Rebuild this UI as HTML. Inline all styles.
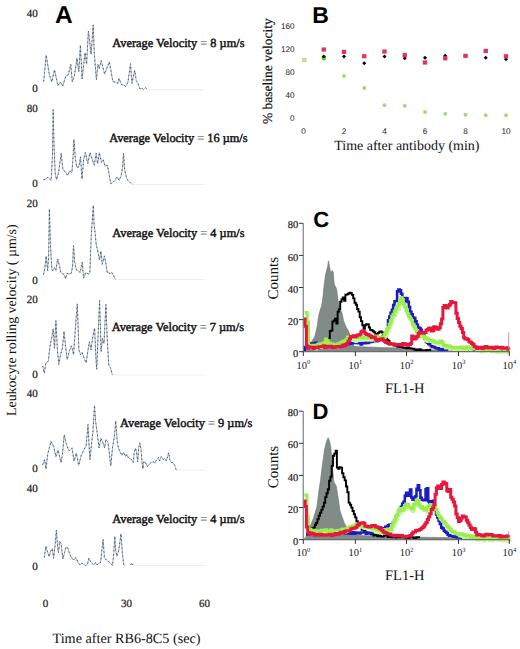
<!DOCTYPE html><html><head><meta charset="utf-8"><style>html,body{margin:0;padding:0;background:#fff;}svg{display:block;}</style></head><body>
<svg width="520" height="649" viewBox="0 0 520 649" text-rendering="geometricPrecision">
<rect width="520" height="649" fill="#fff"/>
<text x="55" y="22.5" style="font-family:'Liberation Sans',sans-serif;font-weight:bold;font-size:24.5px">A</text>
<text x="37.8" y="16.5" text-anchor="end" style="font-family:'Liberation Serif',serif;font-size:11px;fill:#222;stroke:#222;stroke-width:0.25">40</text>
<text x="37.8" y="91.8" text-anchor="end" style="font-family:'Liberation Serif',serif;font-size:11px;fill:#222;stroke:#222;stroke-width:0.25">0</text>
<text x="37.8" y="111.9" text-anchor="end" style="font-family:'Liberation Serif',serif;font-size:11px;fill:#222;stroke:#222;stroke-width:0.25">80</text>
<text x="37.8" y="187.2" text-anchor="end" style="font-family:'Liberation Serif',serif;font-size:11px;fill:#222;stroke:#222;stroke-width:0.25">0</text>
<text x="37.8" y="207" text-anchor="end" style="font-family:'Liberation Serif',serif;font-size:11px;fill:#222;stroke:#222;stroke-width:0.25">20</text>
<text x="37.8" y="283.5" text-anchor="end" style="font-family:'Liberation Serif',serif;font-size:11px;fill:#222;stroke:#222;stroke-width:0.25">0</text>
<text x="37.8" y="302.9" text-anchor="end" style="font-family:'Liberation Serif',serif;font-size:11px;fill:#222;stroke:#222;stroke-width:0.25">20</text>
<text x="37.8" y="377.8" text-anchor="end" style="font-family:'Liberation Serif',serif;font-size:11px;fill:#222;stroke:#222;stroke-width:0.25">0</text>
<text x="37.8" y="397" text-anchor="end" style="font-family:'Liberation Serif',serif;font-size:11px;fill:#222;stroke:#222;stroke-width:0.25">40</text>
<text x="37.8" y="472.4" text-anchor="end" style="font-family:'Liberation Serif',serif;font-size:11px;fill:#222;stroke:#222;stroke-width:0.25">0</text>
<text x="37.8" y="492.4" text-anchor="end" style="font-family:'Liberation Serif',serif;font-size:11px;fill:#222;stroke:#222;stroke-width:0.25">40</text>
<text x="37.8" y="569.5" text-anchor="end" style="font-family:'Liberation Serif',serif;font-size:11px;fill:#222;stroke:#222;stroke-width:0.25">0</text>
<line x1="148" y1="89.6" x2="204" y2="89.6" stroke="#efefef" stroke-width="1.2"/>
<line x1="132" y1="184.5" x2="205" y2="184.5" stroke="#efefef" stroke-width="1.2"/>
<line x1="115" y1="279.5" x2="205" y2="279.5" stroke="#efefef" stroke-width="1.2"/>
<line x1="112" y1="375" x2="205" y2="375" stroke="#efefef" stroke-width="1.2"/>
<line x1="176" y1="470" x2="205" y2="470" stroke="#efefef" stroke-width="1.2"/>
<line x1="134" y1="565.5" x2="205" y2="565.5" stroke="#efefef" stroke-width="1.2"/>
<polyline points="43.7,81.5 46.2,55.0 49.2,74.0 51.7,82.0 54.5,69.8 57.9,85.8 60.3,82.0 62.8,85.8 65.9,76.0 68.3,74.8 70.8,64.3 72.3,82.0 74.5,75.4 77.0,58.1 78.8,71.7 80.4,45.2 82.1,79.0 85.0,52.6 86.6,64.3 88.4,31.0 91.1,54.4 93.2,24.9 94.2,52.0 96.4,79.7 98.0,64.3 99.3,68.6 101.2,60.6 104.6,74.1 109.4,61.8 112.9,81.5 115.3,82.1 117.8,83.4 119.0,78.4 121.5,84.6 124.0,85.2 125.8,86.5 128.0,82.1 130.5,63.7 132.0,83.4 134.7,70.4 136.3,80.9 137.5,82.1 139.1,86.5 140.0,89.0 142.4,88.3 143.7,89.5 145.5,87.7 147.4,89.5" fill="none" stroke="#9fb0c1" stroke-width="0.95" stroke-linejoin="round"/>
<polyline points="43.7,81.5 46.2,55.0 49.2,74.0 51.7,82.0 54.5,69.8 57.9,85.8 60.3,82.0 62.8,85.8 65.9,76.0 68.3,74.8 70.8,64.3 72.3,82.0 74.5,75.4 77.0,58.1 78.8,71.7 80.4,45.2 82.1,79.0 85.0,52.6 86.6,64.3 88.4,31.0 91.1,54.4 93.2,24.9 94.2,52.0 96.4,79.7 98.0,64.3 99.3,68.6 101.2,60.6 104.6,74.1 109.4,61.8 112.9,81.5 115.3,82.1 117.8,83.4 119.0,78.4 121.5,84.6 124.0,85.2 125.8,86.5 128.0,82.1 130.5,63.7 132.0,83.4 134.7,70.4 136.3,80.9 137.5,82.1 139.1,86.5 140.0,89.0 142.4,88.3 143.7,89.5 145.5,87.7 147.4,89.5" fill="none" stroke="#3a4550" stroke-width="0.8" stroke-dasharray="1.4 2.6" stroke-linejoin="round"/>
<polyline points="43.5,179.7 46.2,179.0 47.8,177.0 49.0,178.3 51.1,180.4 52.5,155.4 53.2,109.7 53.9,141.6 55.2,173.4 56.6,179.7 58.7,172.0 61.2,153.3 62.9,170.0 64.9,171.3 67.7,175.5 69.8,170.7 71.9,172.7 73.2,155.4 73.9,139.5 75.3,158.2 76.7,167.2 78.8,167.2 80.5,156.8 82.0,179.0 83.6,159.6 85.4,152.6 87.8,163.7 89.9,152.6 92.1,159.0 94.2,165.1 96.2,153.3 97.6,163.7 99.4,152.6 101.4,162.3 103.2,159.6 105.2,166.5 107.3,165.1 108.7,172.0 110.8,183.8 112.9,182.4 114.9,180.4 117.0,176.9 119.1,180.4 121.2,175.5 122.6,166.5 123.5,153.3 124.6,169.3 126.7,179.0 129.5,181.7 132.3,184.5" fill="none" stroke="#9fb0c1" stroke-width="0.95" stroke-linejoin="round"/>
<polyline points="43.5,179.7 46.2,179.0 47.8,177.0 49.0,178.3 51.1,180.4 52.5,155.4 53.2,109.7 53.9,141.6 55.2,173.4 56.6,179.7 58.7,172.0 61.2,153.3 62.9,170.0 64.9,171.3 67.7,175.5 69.8,170.7 71.9,172.7 73.2,155.4 73.9,139.5 75.3,158.2 76.7,167.2 78.8,167.2 80.5,156.8 82.0,179.0 83.6,159.6 85.4,152.6 87.8,163.7 89.9,152.6 92.1,159.0 94.2,165.1 96.2,153.3 97.6,163.7 99.4,152.6 101.4,162.3 103.2,159.6 105.2,166.5 107.3,165.1 108.7,172.0 110.8,183.8 112.9,182.4 114.9,180.4 117.0,176.9 119.1,180.4 121.2,175.5 122.6,166.5 123.5,153.3 124.6,169.3 126.7,179.0 129.5,181.7 132.3,184.5" fill="none" stroke="#3a4550" stroke-width="0.8" stroke-dasharray="1.4 2.6" stroke-linejoin="round"/>
<polyline points="43.5,274.6 44.8,268.4 46.2,256.0 47.6,270.5 48.6,257.3 49.4,208.9 50.4,243.5 51.8,269.8 53.2,270.5 54.5,267.7 55.9,270.5 57.7,258.7 59.4,265.6 60.8,272.6 62.9,274.0 64.2,274.6 65.6,278.8 67.0,273.3 69.1,274.0 71.2,273.3 72.5,267.0 73.5,245.6 74.6,261.5 76.3,269.8 78.1,270.5 80.2,272.6 82.2,262.2 83.6,278.1 85.7,272.6 88.5,274.0 89.8,273.3 91.2,236.6 93.3,205.4 94.0,222.7 96.1,243.5 98.2,253.2 99.5,260.1 100.9,251.1 102.3,264.3 104.4,255.9 105.8,262.9 107.2,272.6 108.5,271.9 109.9,274.0 112.0,272.6 113.4,275.3 115.5,279.5" fill="none" stroke="#9fb0c1" stroke-width="0.95" stroke-linejoin="round"/>
<polyline points="43.5,274.6 44.8,268.4 46.2,256.0 47.6,270.5 48.6,257.3 49.4,208.9 50.4,243.5 51.8,269.8 53.2,270.5 54.5,267.7 55.9,270.5 57.7,258.7 59.4,265.6 60.8,272.6 62.9,274.0 64.2,274.6 65.6,278.8 67.0,273.3 69.1,274.0 71.2,273.3 72.5,267.0 73.5,245.6 74.6,261.5 76.3,269.8 78.1,270.5 80.2,272.6 82.2,262.2 83.6,278.1 85.7,272.6 88.5,274.0 89.8,273.3 91.2,236.6 93.3,205.4 94.0,222.7 96.1,243.5 98.2,253.2 99.5,260.1 100.9,251.1 102.3,264.3 104.4,255.9 105.8,262.9 107.2,272.6 108.5,271.9 109.9,274.0 112.0,272.6 113.4,275.3 115.5,279.5" fill="none" stroke="#3a4550" stroke-width="0.8" stroke-dasharray="1.4 2.6" stroke-linejoin="round"/>
<polyline points="42.7,366.0 44.3,373.3 45.9,362.8 48.3,361.2 49.9,346.6 51.6,338.5 53.2,328.8 54.5,348.3 55.9,320.7 57.5,351.5 58.8,364.4 60.5,354.7 62.4,348.3 64.0,331.3 65.6,346.6 67.2,359.6 69.4,350.7 71.5,345.8 73.6,354.7 75.2,330.5 77.3,303.8 78.9,349.9 80.5,354.7 82.1,352.3 84.6,359.6 86.2,362.8 87.8,351.5 89.4,341.8 91.0,349.9 93.0,335.3 94.6,328.0 95.9,358.0 96.7,369.3 98.3,330.5 99.6,300.5 101.1,351.5 102.4,338.5 104.0,343.4 105.9,304.6 107.2,338.5 108.8,366.0 110.5,367.7 112.4,375.0" fill="none" stroke="#9fb0c1" stroke-width="0.95" stroke-linejoin="round"/>
<polyline points="42.7,366.0 44.3,373.3 45.9,362.8 48.3,361.2 49.9,346.6 51.6,338.5 53.2,328.8 54.5,348.3 55.9,320.7 57.5,351.5 58.8,364.4 60.5,354.7 62.4,348.3 64.0,331.3 65.6,346.6 67.2,359.6 69.4,350.7 71.5,345.8 73.6,354.7 75.2,330.5 77.3,303.8 78.9,349.9 80.5,354.7 82.1,352.3 84.6,359.6 86.2,362.8 87.8,351.5 89.4,341.8 91.0,349.9 93.0,335.3 94.6,328.0 95.9,358.0 96.7,369.3 98.3,330.5 99.6,300.5 101.1,351.5 102.4,338.5 104.0,343.4 105.9,304.6 107.2,338.5 108.8,366.0 110.5,367.7 112.4,375.0" fill="none" stroke="#3a4550" stroke-width="0.8" stroke-dasharray="1.4 2.6" stroke-linejoin="round"/>
<polyline points="42.7,464.8 44.6,459.6 46.0,469.1 47.8,453.8 51.0,441.3 53.7,446.5 55.9,456.7 58.1,450.1 61.0,462.6 62.4,455.2 64.2,434.8 66.1,443.5 69.0,450.9 72.0,447.9 74.1,461.1 76.3,453.1 78.7,465.3 81.2,455.4 83.6,450.5 86.1,445.6 88.0,424.6 89.2,448.0 90.0,459.7 91.6,443.1 92.9,432.0 94.5,405.5 95.7,422.1 97.2,433.2 99.0,448.0 100.9,438.2 102.7,441.9 104.6,448.0 105.8,439.4 108.0,441.9 110.8,465.9 112.6,446.8 114.5,435.7 115.7,420.9 117.5,444.3 119.4,450.5 121.9,455.4 123.7,452.3 125.6,456.7 126.7,454.4 128.5,457.9 130.2,458.5 131.9,460.2 133.3,462.5 134.2,452.7 135.4,448.1 136.5,452.1 137.7,461.9 138.6,448.1 139.8,442.9 140.9,448.1 142.1,463.1 142.9,468.8 144.0,461.3 145.8,463.1 147.5,466.5 149.2,464.2 151.0,462.5 153.3,461.9 155.0,463.1 156.7,459.6 158.5,457.3 159.6,460.8 161.3,456.7 163.1,459.6 164.8,458.5 166.3,460.8 167.7,456.2 168.6,452.7 169.8,459.6 171.2,462.5 172.9,462.5 174.6,465.4 176.3,470.0" fill="none" stroke="#9fb0c1" stroke-width="0.95" stroke-linejoin="round"/>
<polyline points="42.7,464.8 44.6,459.6 46.0,469.1 47.8,453.8 51.0,441.3 53.7,446.5 55.9,456.7 58.1,450.1 61.0,462.6 62.4,455.2 64.2,434.8 66.1,443.5 69.0,450.9 72.0,447.9 74.1,461.1 76.3,453.1 78.7,465.3 81.2,455.4 83.6,450.5 86.1,445.6 88.0,424.6 89.2,448.0 90.0,459.7 91.6,443.1 92.9,432.0 94.5,405.5 95.7,422.1 97.2,433.2 99.0,448.0 100.9,438.2 102.7,441.9 104.6,448.0 105.8,439.4 108.0,441.9 110.8,465.9 112.6,446.8 114.5,435.7 115.7,420.9 117.5,444.3 119.4,450.5 121.9,455.4 123.7,452.3 125.6,456.7 126.7,454.4 128.5,457.9 130.2,458.5 131.9,460.2 133.3,462.5 134.2,452.7 135.4,448.1 136.5,452.1 137.7,461.9 138.6,448.1 139.8,442.9 140.9,448.1 142.1,463.1 142.9,468.8 144.0,461.3 145.8,463.1 147.5,466.5 149.2,464.2 151.0,462.5 153.3,461.9 155.0,463.1 156.7,459.6 158.5,457.3 159.6,460.8 161.3,456.7 163.1,459.6 164.8,458.5 166.3,460.8 167.7,456.2 168.6,452.7 169.8,459.6 171.2,462.5 172.9,462.5 174.6,465.4 176.3,470.0" fill="none" stroke="#3a4550" stroke-width="0.8" stroke-dasharray="1.4 2.6" stroke-linejoin="round"/>
<polyline points="44.3,557.5 45.9,546.2 47.5,551.8 49.1,556.7 50.7,551.0 52.3,548.6 53.6,558.3 55.3,542.9 56.4,530.0 57.5,546.2 58.5,552.6 59.6,541.3 61.2,544.5 62.9,559.1 64.5,552.6 66.1,547.0 67.7,547.8 69.3,552.6 70.9,556.7 72.6,559.1 74.2,559.9 75.8,557.5 78.1,562.5 80.0,565.0 81.9,563.1 83.8,564.4 85.6,565.6 87.5,564.4 88.8,558.1 90.6,561.9 92.5,563.8 94.0,565.0 95.6,562.5 96.9,565.0 98.8,563.1 100.6,562.5 101.9,550.0 103.1,539.4 104.4,557.5 106.3,560.0 108.1,561.3 110.0,562.5 112.5,565.6 113.8,552.5 114.8,536.3 115.6,550.0 116.9,556.3 118.8,550.0 121.0,533.8 122.3,552.5 123.8,565.0 125.0,565.6" fill="none" stroke="#9fb0c1" stroke-width="0.95" stroke-linejoin="round"/>
<polyline points="44.3,557.5 45.9,546.2 47.5,551.8 49.1,556.7 50.7,551.0 52.3,548.6 53.6,558.3 55.3,542.9 56.4,530.0 57.5,546.2 58.5,552.6 59.6,541.3 61.2,544.5 62.9,559.1 64.5,552.6 66.1,547.0 67.7,547.8 69.3,552.6 70.9,556.7 72.6,559.1 74.2,559.9 75.8,557.5 78.1,562.5 80.0,565.0 81.9,563.1 83.8,564.4 85.6,565.6 87.5,564.4 88.8,558.1 90.6,561.9 92.5,563.8 94.0,565.0 95.6,562.5 96.9,565.0 98.8,563.1 100.6,562.5 101.9,550.0 103.1,539.4 104.4,557.5 106.3,560.0 108.1,561.3 110.0,562.5 112.5,565.6 113.8,552.5 114.8,536.3 115.6,550.0 116.9,556.3 118.8,550.0 121.0,533.8 122.3,552.5 123.8,565.0 125.0,565.6" fill="none" stroke="#3a4550" stroke-width="0.8" stroke-dasharray="1.4 2.6" stroke-linejoin="round"/>
<polyline points="130.6,565.0 131.8,563.0 133.1,565.0" fill="none" stroke="#9fb0c1" stroke-width="0.95" stroke-linejoin="round"/>
<polyline points="130.6,565.0 131.8,563.0 133.1,565.0" fill="none" stroke="#3a4550" stroke-width="0.8" stroke-dasharray="1.4 2.6" stroke-linejoin="round"/>
<text x="112.3" y="47.2" style="font-family:'Liberation Serif',serif;font-size:12.35px;fill:#111;stroke:#111;stroke-width:0.45">Average Velocity <tspan style="fill:#777;stroke:#999;stroke-width:0.2">=</tspan> 8 µm/s</text>
<text x="109.2" y="142" style="font-family:'Liberation Serif',serif;font-size:12.35px;fill:#111;stroke:#111;stroke-width:0.45">Average Velocity <tspan style="fill:#777;stroke:#999;stroke-width:0.2">=</tspan> 16 µm/s</text>
<text x="112.3" y="236.8" style="font-family:'Liberation Serif',serif;font-size:12.35px;fill:#111;stroke:#111;stroke-width:0.45">Average Velocity <tspan style="fill:#777;stroke:#999;stroke-width:0.2">=</tspan> 4 µm/s</text>
<text x="111.7" y="331" style="font-family:'Liberation Serif',serif;font-size:12.35px;fill:#111;stroke:#111;stroke-width:0.45">Average Velocity <tspan style="fill:#777;stroke:#999;stroke-width:0.2">=</tspan> 7 µm/s</text>
<text x="120" y="427" style="font-family:'Liberation Serif',serif;font-size:12.35px;fill:#111;stroke:#111;stroke-width:0.45">Average Velocity <tspan style="fill:#777;stroke:#999;stroke-width:0.2">=</tspan> 9 µm/s</text>
<text x="112.3" y="522.7" style="font-family:'Liberation Serif',serif;font-size:12.35px;fill:#111;stroke:#111;stroke-width:0.45">Average Velocity <tspan style="fill:#777;stroke:#999;stroke-width:0.2">=</tspan> 4 µm/s</text>
<text x="45.5" y="606.5" text-anchor="middle" style="font-family:'Liberation Serif',serif;font-size:11px;fill:#222;stroke:#222;stroke-width:0.25">0</text>
<text x="126.4" y="606.5" text-anchor="middle" style="font-family:'Liberation Serif',serif;font-size:11px;fill:#222;stroke:#222;stroke-width:0.25">30</text>
<text x="204.4" y="606.5" text-anchor="middle" style="font-family:'Liberation Serif',serif;font-size:11px;fill:#222;stroke:#222;stroke-width:0.25">60</text>
<text x="52.5" y="642.9" style="font-family:'Liberation Serif',serif;font-size:14.2px;fill:#111">Time after RB6-8C5 (sec)</text>
<text transform="translate(15.5,416) rotate(-90)" x="0" y="0" style="font-family:'Liberation Serif',serif;font-size:13.9px;fill:#111">Leukocyte rolling velocity ( µm/s)</text>
<text x="312.2" y="22.8" style="font-family:'Liberation Sans',sans-serif;font-weight:bold;font-size:23px">B</text>
<text x="294.6" y="28.5" text-anchor="end" style="font-family:'Liberation Sans',sans-serif;font-size:8.2px;fill:#222">160</text>
<text x="294.6" y="51.5" text-anchor="end" style="font-family:'Liberation Sans',sans-serif;font-size:8.2px;fill:#222">120</text>
<text x="294.6" y="74.5" text-anchor="end" style="font-family:'Liberation Sans',sans-serif;font-size:8.2px;fill:#222">80</text>
<text x="294.6" y="97.5" text-anchor="end" style="font-family:'Liberation Sans',sans-serif;font-size:8.2px;fill:#222">40</text>
<text x="294.6" y="120.75" text-anchor="end" style="font-family:'Liberation Sans',sans-serif;font-size:8.2px;fill:#222">0</text>
<text x="303.50" y="134.3" text-anchor="middle" style="font-family:'Liberation Sans',sans-serif;font-size:8.2px;fill:#222">0</text>
<text x="344.00" y="134.3" text-anchor="middle" style="font-family:'Liberation Sans',sans-serif;font-size:8.2px;fill:#222">2</text>
<text x="384.50" y="134.3" text-anchor="middle" style="font-family:'Liberation Sans',sans-serif;font-size:8.2px;fill:#222">4</text>
<text x="425.00" y="134.3" text-anchor="middle" style="font-family:'Liberation Sans',sans-serif;font-size:8.2px;fill:#222">6</text>
<text x="465.50" y="134.3" text-anchor="middle" style="font-family:'Liberation Sans',sans-serif;font-size:8.2px;fill:#222">8</text>
<text x="506.00" y="134.3" text-anchor="middle" style="font-family:'Liberation Sans',sans-serif;font-size:8.2px;fill:#222">10</text>
<text x="334.2" y="150" style="font-family:'Liberation Serif',serif;font-size:14px;fill:#111">Time after antibody (min)</text>
<text transform="translate(272,124) rotate(-90)" style="font-family:'Liberation Serif',serif;font-size:13.5px;fill:#111;stroke:#111;stroke-width:0.2">% baseline velocity</text>
<rect x="301.9" y="57.699999999999996" width="4.6" height="4.4" fill="#c9d69e"/>
<circle cx="323.75" cy="58" r="2.4" fill="#5cd23c"/>
<circle cx="344.00" cy="76" r="1.9" fill="#9cdc74"/>
<circle cx="364.25" cy="88" r="1.9" fill="#9cdc74"/>
<circle cx="384.50" cy="105.2" r="1.9" fill="#9cdc74"/>
<circle cx="404.75" cy="105.8" r="1.9" fill="#9cdc74"/>
<circle cx="425.00" cy="112" r="1.9" fill="#9cdc74"/>
<circle cx="445.25" cy="113.8" r="1.9" fill="#9cdc74"/>
<circle cx="465.50" cy="114.7" r="1.9" fill="#9cdc74"/>
<circle cx="485.75" cy="115.2" r="1.9" fill="#9cdc74"/>
<circle cx="506.00" cy="115.2" r="1.9" fill="#9cdc74"/>
<path d="M323.75,54.50 L325.75,56.50 L323.75,58.50 L321.75,56.50Z" fill="#000"/>
<path d="M344.00,54.60 L346.00,56.60 L344.00,58.60 L342.00,56.60Z" fill="#000"/>
<path d="M364.25,61.25 L366.25,63.25 L364.25,65.25 L362.25,63.25Z" fill="#000"/>
<path d="M384.50,54.40 L386.50,56.40 L384.50,58.40 L382.50,56.40Z" fill="#000"/>
<path d="M404.75,56.30 L406.75,58.30 L404.75,60.30 L402.75,58.30Z" fill="#000"/>
<path d="M425.00,55.70 L427.00,57.70 L425.00,59.70 L423.00,57.70Z" fill="#000"/>
<path d="M445.25,53.80 L447.25,55.80 L445.25,57.80 L443.25,55.80Z" fill="#000"/>
<path d="M465.50,54.00 L467.50,56.00 L465.50,58.00 L463.50,56.00Z" fill="#000"/>
<path d="M485.75,55.70 L487.75,57.70 L485.75,59.70 L483.75,57.70Z" fill="#000"/>
<path d="M506.00,57.20 L508.00,59.20 L506.00,61.20 L504.00,59.20Z" fill="#000"/>
<rect x="321.55" y="47.40" width="4.4" height="4.2" fill="#e3345a"/>
<rect x="341.80" y="49.80" width="4.4" height="4.2" fill="#e3345a"/>
<rect x="362.05" y="54.15" width="4.4" height="4.2" fill="#e3345a"/>
<rect x="382.30" y="49.40" width="4.4" height="4.2" fill="#e3345a"/>
<rect x="402.55" y="52.90" width="4.4" height="4.2" fill="#e3345a"/>
<rect x="422.80" y="60.40" width="4.4" height="4.2" fill="#e3345a"/>
<rect x="443.05" y="56.20" width="4.4" height="4.2" fill="#e3345a"/>
<rect x="463.30" y="53.70" width="4.4" height="4.2" fill="#e3345a"/>
<rect x="483.55" y="48.90" width="4.4" height="4.2" fill="#e3345a"/>
<rect x="503.80" y="54.20" width="4.4" height="4.2" fill="#e3345a"/>
<text x="313.3" y="226.7" style="font-family:'Liberation Sans',sans-serif;font-weight:bold;font-size:22px">C</text>
<polygon points="303.5,351.5 306.0,349.0 309.3,346.0 311.6,341.4 314.7,336.8 317.0,327.5 318.5,316.7 320.0,310.5 321.6,305.9 322.8,298.2 323.9,287.4 325.5,275.0 326.5,270.4 327.5,267.3 328.5,260.9 329.6,267.3 330.8,273.5 332.1,270.4 333.2,272.0 334.2,284.3 336.5,288.5 338.0,300.0 339.5,307.0 342.0,313.0 343.5,320.4 346.0,327.0 348.0,330.0 349.5,333.8 350.5,338.0 351.2,343.0 354.8,346.5 360.0,346.8 380.0,347.5 400.0,348.0 406.0,348.5 420.0,349.5 440.0,350.0 509.0,350.5 509.0,351.5" fill="#818b87" stroke="#6c7471" stroke-width="0.6"/>
<path d="M328.5,338.0H329.8V331.0H331.1V330.5H332.4V321.6H333.7V320.5H335.0V318.6H336.3V323.5H337.6V311.8H338.9V309.1H340.2V301.7H341.5V299.3H342.8V297.4H344.1V300.9H345.4V294.7H346.7V294.4H348.0V293.8H349.3V292.7H350.6V293.3H351.9V294.9H353.2V298.4H354.5V302.7H355.8V304.8H357.1V309.0H358.4V311.6H359.7V317.2H361.0V321.1H362.3V325.3H363.6V328.8H364.9V325.3H366.2V324.3H367.5V324.1H368.8V327.5H370.1V329.9H371.4V330.3H372.7V331.2H374.0V332.3H375.3V333.9H376.6V334.3H377.9V332.9H379.2V331.7H380.5V331.5H381.8V332.5H383.1V334.6H384.4V336.1H385.7V337.2H387.0V339.6H388.3V341.0H389.6V342.9H390.9V343.9H392.2V344.0H393.5V345.6H394.8V344.7H396.1V345.7H397.4V346.7H398.7V346.2H400.0V347.0H401.3V346.5H402.6V347.6H403.9V347.9H405.2V347.7H406.5V348.3H407.8V347.5H409.1V348.3H410.4V348.4H411.7V348.6H413.0V348.7H414.3V349.5H415.6V350.0H416.9V349.5H418.2V350.0H419.5V349.3H420.8V350.4H422.1V350.4H423.4V351.0H424.7V350.8H426.0V350.0H427.3V350.2H428.6V350.7H429.9V349.7H431.2" fill="none" stroke="#000" stroke-width="1.9"/>
<path d="M303.5,349.9H304.8V347.3H306.1V345.7H307.4V344.5H308.7V344.9H310.0V343.5H311.3V343.5H312.6V343.5H313.9V344.3H315.2V342.8H316.5V343.4H317.8V343.8H319.1V344.5H320.4V344.6H321.7V344.5H323.0V343.4H324.3V343.6H325.6V343.6H326.9V344.8H328.2V345.1H329.5V343.8H330.8V343.9H332.1V344.0H333.4V344.0H334.7V344.5H336.0V344.7H337.3V344.1H338.6V343.6H339.9V344.4H341.2V344.3H342.5V344.6H343.8V345.3H345.1V344.8H346.4V344.3H347.7V344.0H349.0V343.7H350.3V342.1H351.6V343.4H352.9V342.9H354.2V342.9H355.5V342.9H356.8V342.6H358.1V343.1H359.4V343.1H360.7V344.4H362.0V343.2H363.3V343.0H364.6V343.1H365.9V342.9H367.2V343.0H368.5V342.3H369.8V341.9H371.1V341.7H372.4V341.1H373.7V341.1H375.0V340.0H376.3V341.1H377.6V340.1H378.9V338.4H380.2V337.8H381.5V337.2H382.8V336.4H384.1V335.0H385.4V335.3H386.7V330.9H388.0V320.4H389.3V316.5H390.6V312.9H391.9V309.8H393.2V305.0H394.5V301.3H395.8V301.0H397.1V291.4H398.4V289.5H399.7V290.4H401.0V293.8H402.3V298.3H403.6V301.5H404.9V298.1H406.2V298.4H407.5V301.9H408.8V307.0H410.1V311.7H411.4V314.4H412.7V317.6H414.0V318.1H415.3V321.4H416.6V324.9H417.9V327.6H419.2V328.0H420.5V329.7H421.8V332.7H423.1V335.6H424.4V338.6H425.7V341.5H427.0V342.8H428.3V344.0H429.6V344.4H430.9V346.2H432.2V346.9H433.5V347.0H434.8V347.7H436.1V348.3H437.4V348.4H438.7V349.3H440.0V349.9H441.3V349.1H442.6V350.0H443.9V350.1H445.2V350.1H446.5V349.0H447.8V348.8H449.1V348.8H450.4V348.8H451.7V348.8H453.0V349.6H454.3V350.1H455.6V350.1H456.9V349.4H458.2V349.8H459.5V350.0H460.8V348.8H462.1V349.8H463.4V350.2H464.7V350.0H466.0V350.0H467.3V349.5H468.6V348.9H469.9V350.0H471.2V349.2H472.5V350.0H473.8V350.3H475.1V349.3H476.4V349.3H477.7V350.3H479.0V349.9H480.3V348.9H481.6V348.8H482.9V348.9H484.2V350.2H485.5V350.1H486.8V348.9H488.1V350.1H489.4V350.4H490.7V349.8H492.0V349.2H493.3V349.6H494.6V348.8H495.9V348.6H497.2V350.3H498.5V349.8H499.8V349.5H501.1V350.3H502.4V349.4H503.7V350.2H505.0V350.1H506.3V349.0H507.6V349.1H508.9V349.1H510.2" fill="none" stroke="#1c1cc4" stroke-width="2.6"/>
<path d="M308.9,347.9H310.2V348.7H311.5V347.9H312.8V348.3H314.1V347.6H315.4V349.5H316.7V347.8H318.0V347.6H319.3V347.5H320.6V347.9H321.9V346.3H323.2V347.1H324.5V345.6H325.8V344.1H327.1V342.4H328.4V343.7H329.7V346.1H331.0V345.6H332.3V345.3H333.6V347.3H334.9V346.0H336.2V346.8H337.5V347.5H338.8V346.7H340.1V345.7H341.4V345.7H342.7V345.3H344.0V345.2H345.3V342.9H346.6V342.7H347.9V340.5H349.2V338.8H350.5V340.5H351.8V340.4H353.1V340.9H354.4V341.4H355.7V341.8H357.0V340.7H358.3V341.0H359.6V340.5H360.9V340.3H362.2V340.5H363.5V339.7H364.8V339.7H366.1V339.4H367.4V340.6H368.7V340.0H370.0V340.4H371.3V340.6H372.6V338.9H373.9V339.6H375.2V340.6H376.5V340.3H377.8V338.6H379.1V338.5H380.4V339.3H381.7V338.7H383.0V339.4H384.3V337.9H385.6V336.7H386.9V334.4H388.2V332.0H389.5V327.6H390.8V325.3H392.1V321.3H393.4V316.7H394.7V315.9H396.0V313.5H397.3V309.8H398.6V309.7H399.9V305.5H401.2V302.4H402.5V302.2H403.8V304.5H405.1V306.3H406.4V310.4H407.7V314.2H409.0V316.7H410.3V318.9H411.6V321.8H412.9V325.4H414.2V326.4H415.5V330.3H416.8V332.6H418.1V333.5H419.4V335.5H420.7V337.5H422.0V338.1H423.3V337.9H424.6V341.0H425.9V341.1H427.2V342.0H428.5V340.3H429.8V341.2H431.1V341.3H432.4V343.7H433.7V343.1H435.0V343.2H436.3V344.1H437.6V345.5H438.9V345.5H440.2V343.9H441.5V343.3H442.8V345.9H444.1V346.7H445.4V348.5H446.7V347.4H448.0V347.8H449.3V349.7H450.6V349.3H451.9V348.6H453.2V350.8H454.5V350.2H455.8V350.8H457.1V349.2H458.4V351.0H459.7V349.1H461.0V351.0H462.3V350.0H463.6V349.7H464.9V350.2H466.2V351.1H467.5V349.5H468.8V349.2H470.1V350.1H471.4V349.4H472.7V349.1H474.0V349.2H475.3V349.1H476.6V349.8H477.9V350.4H479.2V350.7H480.5V352.1H481.8V351.0H483.1V351.5H484.4V350.8H485.7V351.2H487.0V350.5H488.3V351.0H489.6V350.5H490.9V352.2H492.2V351.8H493.5V351.0H494.8V351.7H496.1V352.8H497.4V350.8H498.7V352.6H500.0V351.7H501.3V351.8H502.6V352.7H503.9V351.6H505.2V351.9H506.5V352.4H507.8V353.1H509.1V351.6H510.4" fill="none" stroke="#c6f59a" stroke-width="2.2"/>
<path d="M304.6,312.6H305.9V312.4H307.2V322.0H308.5V345.8H309.8V345.7H311.1V345.2H312.4V345.3H313.7V345.2H315.0V346.2H316.3V344.9H317.6V344.4H318.9V343.8H320.2V344.7H321.5V344.4H322.8V343.6H324.1V342.4H325.4V339.0H326.7V341.0H328.0V343.6H329.3V343.2H330.6V343.9H331.9V343.7H333.2V345.0H334.5V345.2H335.8V344.5H337.1V343.8H338.4V344.6H339.7V343.0H341.0V342.6H342.3V341.3H343.6V341.4H344.9V340.5H346.2V339.3H347.5V336.9H348.8V337.1H350.1V336.8H351.4V337.7H352.7V337.6H354.0V338.1H355.3V337.5H356.6V337.4H357.9V337.7H359.2V337.4H360.5V337.8H361.8V337.5H363.1V337.7H364.4V337.3H365.7V337.4H367.0V337.7H368.3V336.8H369.6V336.7H370.9V337.9H372.2V336.4H373.5V337.4H374.8V337.2H376.1V336.1H377.4V337.5H378.7V337.6H380.0V337.3H381.3V337.8H382.6V338.0H383.9V334.2H385.2V332.2H386.5V329.6H387.8V327.5H389.1V324.3H390.4V320.5H391.7V316.3H393.0V314.2H394.3V311.2H395.6V309.1H396.9V306.3H398.2V303.7H399.5V300.5H400.8V297.6H402.1V299.4H403.4V303.9H404.7V306.9H406.0V310.5H407.3V313.8H408.6V316.5H409.9V318.7H411.2V320.5H412.5V324.6H413.8V327.1H415.1V329.2H416.4V331.7H417.7V333.2H419.0V333.5H420.3V335.7H421.6V335.7H422.9V336.2H424.2V337.4H425.5V338.6H426.8V338.1H428.1V339.5H429.4V340.5H430.7V340.3H432.0V340.7H433.3V341.5H434.6V342.1H435.9V342.4H437.2V342.4H438.5V342.4H439.8V341.0H441.1V341.2H442.4V343.0H443.7V345.5H445.0V345.4H446.3V346.3H447.6V345.7H448.9V346.1H450.2V346.7H451.5V347.5H452.8V347.7H454.1V347.8H455.4V347.2H456.7V347.7H458.0V347.6H459.3V347.6H460.6V347.0H461.9V348.3H463.2V347.1H464.5V348.5H465.8V348.4H467.1V346.7H468.4V347.5H469.7V348.1H471.0V348.4H472.3V347.4H473.6V347.1H474.9V347.4H476.2V349.0H477.5V348.0H478.8V349.0H480.1V348.4H481.4V349.1H482.7V349.9H484.0V348.4H485.3V349.7H486.6V349.1H487.9V349.8H489.2V349.5H490.5V348.7H491.8V349.9H493.1V349.2H494.4V348.4H495.7V348.4H497.0V349.3H498.3V349.2H499.6V349.0H500.9V348.7H502.2V349.1H503.5V349.1H504.8V350.1H506.1V348.6H507.4V349.9H508.7V350.1H510.0" fill="none" stroke="#9cee4c" stroke-width="3"/>
<path d="M303.8,319.1H305.1V326.3H306.4V345.9H307.7V348.2H309.0V347.1H310.3V347.3H311.6V347.3H312.9V348.4H314.2V347.7H315.5V347.2H316.8V347.4H318.1V347.1H319.4V346.7H320.7V346.8H322.0V346.5H323.3V345.7H324.6V347.6H325.9V346.3H327.2V346.4H328.5V346.8H329.8V346.2H331.1V346.5H332.4V347.5H333.7V347.3H335.0V347.0H336.3V346.6H337.6V347.1H338.9V347.0H340.2V346.2H341.5V346.5H342.8V345.1H344.1V345.7H345.4V344.5H346.7V343.4H348.0V341.2H349.3V338.7H350.6V336.6H351.9V336.8H353.2V335.7H354.5V336.7H355.8V336.0H357.1V335.1H358.4V335.1H359.7V334.3H361.0V331.7H362.3V331.1H363.6V331.7H364.9V333.4H366.2V334.4H367.5V334.6H368.8V335.2H370.1V335.9H371.4V337.6H372.7V337.2H374.0V337.0H375.3V339.2H376.6V340.4H377.9V340.3H379.2V339.4H380.5V339.1H381.8V338.8H383.1V340.5H384.4V341.3H385.7V342.6H387.0V342.8H388.3V343.5H389.6V344.3H390.9V344.2H392.2V343.8H393.5V344.1H394.8V344.7H396.1V344.7H397.4V345.0H398.7V344.4H400.0V344.4H401.3V345.3H402.6V343.5H403.9V343.8H405.2V344.4H406.5V345.1H407.8V344.3H409.1V344.7H410.4V343.4H411.7V336.1H413.0V337.1H414.3V339.0H415.6V338.1H416.9V336.5H418.2V333.4H419.5V332.1H420.8V331.9H422.1V332.9H423.4V332.8H424.7V332.5H426.0V330.2H427.3V329.4H428.6V328.2H429.9V328.1H431.2V331.1H432.5V330.7H433.8V326.7H435.1V327.3H436.4V328.7H437.7V329.2H439.0V327.7H440.3V323.8H441.6V319.0H442.9V307.5H444.2V305.5H445.5V307.2H446.8V308.0H448.1V305.8H449.4V304.6H450.7V301.6H452.0V302.4H453.3V302.7H454.6V302.7H455.9V313.2H457.2V318.5H458.5V322.6H459.8V326.2H461.1V328.6H462.4V332.5H463.7V337.7H465.0V338.9H466.3V338.8H467.6V339.4H468.9V341.7H470.2V342.2H471.5V343.4H472.8V344.4H474.1V346.4H475.4V347.1H476.7V348.4H478.0V347.7H479.3V347.2H480.6V347.2H481.9V348.5H483.2V347.9H484.5V347.1H485.8V346.6H487.1V347.5H488.4V347.9H489.7V347.5H491.0V347.2H492.3V348.0H493.6V348.5H494.9V347.2H496.2V346.9H497.5V347.4H498.8V347.6H500.1V348.0H501.4V347.2H502.7V348.2H504.0V348.1H505.3V348.0H506.6V347.7H507.9V349.3H509.2" fill="none" stroke="#e8163a" stroke-width="3"/>
<line x1="508.7" y1="348.5" x2="508.7" y2="332.3" stroke="#e06a78" stroke-width="0.8"/>
<line x1="303.2" y1="223.3" x2="303.2" y2="352.2" stroke="#5c6670" stroke-width="1"/>
<line x1="303" y1="351.7" x2="509.8" y2="351.7" stroke="#6b6f72" stroke-width="1.3"/>
<line x1="299" y1="351.7" x2="303.2" y2="351.7" stroke="#333" stroke-width="1"/>
<line x1="299" y1="319.6" x2="303.2" y2="319.6" stroke="#333" stroke-width="1"/>
<line x1="299" y1="287.5" x2="303.2" y2="287.5" stroke="#333" stroke-width="1"/>
<line x1="299" y1="255.4" x2="303.2" y2="255.4" stroke="#333" stroke-width="1"/>
<line x1="299" y1="223.3" x2="303.2" y2="223.3" stroke="#333" stroke-width="1"/>
<line x1="303.3" y1="351.7" x2="303.3" y2="356.0" stroke="#333" stroke-width="1"/>
<text x="296.5" y="368.5" style="font-family:'Liberation Serif',serif;font-size:10.5px;fill:#222">10<tspan dy="-4.3" style="font-size:6.5px">0</tspan></text>
<line x1="355.4" y1="351.7" x2="355.4" y2="356.0" stroke="#333" stroke-width="1"/>
<text x="348.6" y="368.5" style="font-family:'Liberation Serif',serif;font-size:10.5px;fill:#222">10<tspan dy="-4.3" style="font-size:6.5px">1</tspan></text>
<line x1="406.5" y1="351.7" x2="406.5" y2="356.0" stroke="#333" stroke-width="1"/>
<text x="399.7" y="368.5" style="font-family:'Liberation Serif',serif;font-size:10.5px;fill:#222">10<tspan dy="-4.3" style="font-size:6.5px">2</tspan></text>
<line x1="458.5" y1="351.7" x2="458.5" y2="356.0" stroke="#333" stroke-width="1"/>
<text x="451.7" y="368.5" style="font-family:'Liberation Serif',serif;font-size:10.5px;fill:#222">10<tspan dy="-4.3" style="font-size:6.5px">3</tspan></text>
<line x1="509.3" y1="351.7" x2="509.3" y2="356.0" stroke="#333" stroke-width="1"/>
<text x="502.5" y="368.5" style="font-family:'Liberation Serif',serif;font-size:10.5px;fill:#222">10<tspan dy="-4.3" style="font-size:6.5px">4</tspan></text>
<text x="298.3" y="228.3" text-anchor="end" style="font-family:'Liberation Serif',serif;font-size:10.5px;fill:#222;stroke:#222;stroke-width:0.2">80</text>
<text x="298.3" y="260.6" text-anchor="end" style="font-family:'Liberation Serif',serif;font-size:10.5px;fill:#222;stroke:#222;stroke-width:0.2">60</text>
<text x="298.3" y="292.6" text-anchor="end" style="font-family:'Liberation Serif',serif;font-size:10.5px;fill:#222;stroke:#222;stroke-width:0.2">40</text>
<text x="298.3" y="324.6" text-anchor="end" style="font-family:'Liberation Serif',serif;font-size:10.5px;fill:#222;stroke:#222;stroke-width:0.2">20</text>
<text x="298.3" y="356.6" text-anchor="end" style="font-family:'Liberation Serif',serif;font-size:10.5px;fill:#222;stroke:#222;stroke-width:0.2">0</text>
<text transform="translate(277.6,299.5) rotate(-90)" style="font-family:'Liberation Serif',serif;font-size:15px;fill:#111">Counts</text>
<text x="385" y="392.5" style="font-family:'Liberation Serif',serif;font-size:14.5px;fill:#111">FL1-H</text>
<text x="312.5" y="419.2" style="font-family:'Liberation Sans',sans-serif;font-weight:bold;font-size:22px">D</text>
<polygon points="303.5,539.6 306.0,537.0 308.3,527.1 311.2,524.2 314.0,516.5 316.9,506.9 318.8,491.5 320.8,478.1 322.7,462.7 324.6,449.2 326.5,441.5 328.1,437.7 329.4,440.6 330.8,447.3 332.3,464.6 333.8,481.9 336.2,485.8 338.1,497.3 340.0,510.8 341.9,516.5 344.8,524.2 347.7,529.0 352.0,534.0 360.0,535.5 380.0,536.0 406.0,537.0 440.0,537.5 509.0,538.0 509.0,539.6" fill="#818b87" stroke="#6c7471" stroke-width="0.6"/>
<path d="M308.3,531.4H309.6V531.8H310.9V530.1H312.2V528.5H313.5V527.7H314.8V524.8H316.1V522.9H317.4V519.2H318.7V515.7H320.0V512.8H321.3V509.9H322.6V506.6H323.9V502.8H325.2V497.1H326.5V493.3H327.8V489.3H329.1V480.8H330.4V476.8H331.7V465.9H333.0V455.8H334.3V453.6H335.6V450.8H336.9V467.6H338.2V468.7H339.5V467.1H340.8V467.6H342.1V473.2H343.4V477.2H344.7V480.4H346.0V486.5H347.3V492.3H348.6V502.6H349.9V504.8H351.2V507.6H352.5V511.0H353.8V514.2H355.1V517.4H356.4V521.3H357.7V523.5H359.0V526.2H360.3V526.6H361.6V529.7H362.9V529.8H364.2V530.8H365.5V532.3H366.8V533.1H368.1V533.2H369.4V533.3H370.7V534.2H372.0V534.3H373.3V535.5H374.6V534.6H375.9V535.1H377.2V536.2H378.5V535.1H379.8V535.9H381.1V536.6H382.4V536.6H383.7V535.5H385.0V535.5H386.3V535.6H387.6V537.1H388.9V536.1H390.2V536.9H391.5V537.2H392.8V536.4H394.1V536.4H395.4V537.5H396.7V537.1H398.0V536.6H399.3V537.3H400.6V536.7H401.9V536.7H403.2V536.3H404.5V537.5H405.8V537.8H407.1V537.4H408.4V537.9H409.7V536.5H411.0V536.9H412.3V537.3H413.6V538.1H414.9V538.1H416.2V537.2H417.5V537.1H418.8V537.4H420.1" fill="none" stroke="#000" stroke-width="1.9"/>
<path d="M306.0,534.5H307.3V534.3H308.6V532.0H309.9V532.7H311.2V532.8H312.5V533.2H313.8V533.4H315.1V533.2H316.4V532.8H317.7V532.9H319.0V533.1H320.3V533.9H321.6V532.7H322.9V533.0H324.2V534.1H325.5V533.3H326.8V533.0H328.1V533.1H329.4V534.1H330.7V533.6H332.0V534.7H333.3V534.5H334.6V534.6H335.9V533.2H337.2V532.9H338.5V532.8H339.8V533.5H341.1V533.8H342.4V533.3H343.7V532.8H345.0V533.1H346.3V533.4H347.6V533.4H348.9V533.5H350.2V533.6H351.5V533.3H352.8V532.3H354.1V533.6H355.4V532.6H356.7V533.1H358.0V532.8H359.3V533.4H360.6V532.5H361.9V532.5H363.2V532.5H364.5V532.4H365.8V533.7H367.1V533.1H368.4V532.7H369.7V532.6H371.0V533.0H372.3V531.4H373.6V530.3H374.9V530.6H376.2V529.6H377.5V529.6H378.8V527.3H380.1V527.7H381.4V528.3H382.7V528.3H384.0V528.4H385.3V526.9H386.6V526.6H387.9V525.4H389.2V524.7H390.5V525.3H391.8V524.1H393.1V524.2H394.4V521.7H395.7V519.0H397.0V514.8H398.3V511.0H399.6V509.2H400.9V506.9H402.2V503.7H403.5V501.7H404.8V495.9H406.1V492.9H407.4V495.8H408.7V493.0H410.0V489.6H411.3V497.5H412.6V499.6H413.9V498.8H415.2V496.3H416.5V488.9H417.8V485.4H419.1V490.3H420.4V497.7H421.7V499.7H423.0V500.3H424.3V500.2H425.6V489.3H426.9V488.4H428.2V501.3H429.5V503.5H430.8V503.4H432.1V501.0H433.4V500.7H434.7V510.0H436.0V514.5H437.3V517.4H438.6V520.7H439.9V523.9H441.2V527.6H442.5V528.5H443.8V530.7H445.1V531.7H446.4V533.0H447.7V534.8H449.0V535.7H450.3V535.3H451.6V535.6H452.9V536.8H454.2V536.0H455.5V535.7H456.8V537.5H458.1V536.8H459.4V537.5H460.7V536.8H462.0V537.6H463.3V536.9H464.6V536.4H465.9V536.1H467.2V537.1H468.5V537.3H469.8V537.8H471.1V536.3H472.4V537.3H473.7V536.9H475.0V537.1H476.3V536.5H477.6V536.7H478.9V537.2H480.2V537.9H481.5V536.5H482.8V537.2H484.1V537.8H485.4V538.1H486.7V536.7H488.0V536.6H489.3V538.1H490.6V538.1H491.9V537.3H493.2V536.5H494.5V538.1H495.8V537.1H497.1V538.1H498.4V537.6H499.7V538.0H501.0V536.8H502.3V537.9H503.6V536.9H504.9V537.3H506.2V538.1H507.5V538.1H508.8V536.9H510.1" fill="none" stroke="#1c1cc4" stroke-width="2.6"/>
<path d="M308.5,531.9H309.8V532.5H311.1V533.0H312.4V532.8H313.7V532.4H315.0V532.8H316.3V534.0H317.6V534.4H318.9V532.3H320.2V533.5H321.5V533.9H322.8V532.1H324.1V534.0H325.4V532.3H326.7V533.4H328.0V533.2H329.3V533.3H330.6V532.5H331.9V532.9H333.2V533.3H334.5V533.0H335.8V533.6H337.1V533.2H338.4V533.2H339.7V532.3H341.0V533.6H342.3V532.8H343.6V531.6H344.9V532.4H346.2V531.9H347.5V530.6H348.8V529.4H350.1V529.6H351.4V528.2H352.7V527.8H354.0V528.0H355.3V526.7H356.6V527.0H357.9V526.7H359.2V525.9H360.5V527.6H361.8V526.6H363.1V528.4H364.4V528.8H365.7V528.5H367.0V527.6H368.3V529.0H369.6V529.0H370.9V530.7H372.2V529.1H373.5V531.2H374.8V532.0H376.1V531.7H377.4V532.3H378.7V531.2H380.0V533.5H381.3V532.4H382.6V533.3H383.9V533.1H385.2V531.1H386.5V532.4H387.8V532.7H389.1V530.7H390.4V531.3H391.7V531.4H393.0V526.6H394.3V525.1H395.6V521.0H396.9V519.7H398.2V515.5H399.5V513.8H400.8V512.7H402.1V511.0H403.4V511.1H404.7V510.2H406.0V507.8H407.3V506.3H408.6V507.3H409.9V508.0H411.2V511.2H412.5V511.8H413.8V510.8H415.1V506.5H416.4V505.4H417.7V501.2H419.0V503.6H420.3V508.2H421.6V508.9H422.9V510.7H424.2V510.6H425.5V511.3H426.8V512.6H428.1V509.4H429.4V510.2H430.7V508.5H432.0V507.3H433.3V508.0H434.6V507.4H435.9V509.9H437.2V512.6H438.5V515.9H439.8V519.4H441.1V520.2H442.4V521.1H443.7V524.0H445.0V523.8H446.3V527.5H447.6V528.0H448.9V530.4H450.2V532.4H451.5V532.5H452.8V533.8H454.1V533.7H455.4V533.6H456.7V534.4H458.0V535.2H459.3V536.5H460.6V536.3H461.9V536.8H463.2V538.0H464.5V536.4H465.8V536.9H467.1V538.2H468.4V536.9H469.7V537.2H471.0V538.3H472.3V538.0H473.6V538.9H474.9V538.9H476.2V540.1H477.5V540.4H478.8V539.5H480.1V540.5H481.4V540.2H482.7V539.4H484.0V541.3H485.3V539.7H486.6V539.4H487.9V539.3H489.2V540.6H490.5V541.2H491.8V541.0H493.1V540.1H494.4V539.8H495.7V539.2H497.0V540.7H498.3V540.5H499.6V540.0H500.9V540.8H502.2V540.3H503.5V541.5H504.8V541.0H506.1V539.9H507.4V541.4H508.7V539.4H510.0V540.6H511.3" fill="none" stroke="#c6f59a" stroke-width="2.2"/>
<path d="M304.4,495.2H305.7V494.9H307.0V516.2H308.3V530.7H309.6V529.5H310.9V530.6H312.2V531.5H313.5V530.2H314.8V530.4H316.1V531.1H317.4V530.9H318.7V531.1H320.0V531.4H321.3V530.2H322.6V530.4H323.9V530.3H325.2V529.8H326.5V531.3H327.8V531.1H329.1V530.9H330.4V529.7H331.7V531.2H333.0V531.1H334.3V530.7H335.6V531.2H336.9V530.8H338.2V530.4H339.5V530.2H340.8V529.9H342.1V529.1H343.4V529.1H344.7V529.3H346.0V528.7H347.3V528.4H348.6V527.7H349.9V526.4H351.2V526.4H352.5V525.7H353.8V525.8H355.1V524.8H356.4V523.9H357.7V524.7H359.0V525.6H360.3V524.5H361.6V526.0H362.9V524.7H364.2V525.4H365.5V525.7H366.8V526.9H368.1V527.5H369.4V527.5H370.7V527.1H372.0V528.5H373.3V527.9H374.6V528.1H375.9V529.7H377.2V529.6H378.5V530.1H379.8V530.2H381.1V530.6H382.4V529.6H383.7V530.1H385.0V529.6H386.3V529.8H387.6V529.1H388.9V529.6H390.2V529.2H391.5V525.4H392.8V521.9H394.1V519.9H395.4V516.3H396.7V515.2H398.0V511.3H399.3V508.4H400.6V508.5H401.9V510.0H403.2V507.8H404.5V505.5H405.8V503.9H407.1V504.6H408.4V506.5H409.7V507.6H411.0V508.9H412.3V508.3H413.6V504.6H414.9V503.0H416.2V500.0H417.5V500.6H418.8V504.9H420.1V507.3H421.4V506.4H422.7V508.5H424.0V509.2H425.3V509.9H426.6V507.4H427.9V506.3H429.2V505.2H430.5V504.4H431.8V505.3H433.1V505.9H434.4V506.3H435.7V509.6H437.0V513.1H438.3V515.6H439.6V516.8H440.9V518.3H442.2V521.0H443.5V521.5H444.8V523.5H446.1V525.5H447.4V526.4H448.7V528.0H450.0V529.2H451.3V531.1H452.6V531.3H453.9V531.9H455.2V533.7H456.5V533.5H457.8V534.3H459.1V534.2H460.4V533.4H461.7V534.3H463.0V534.6H464.3V535.5H465.6V535.0H466.9V535.9H468.2V535.9H469.5V535.6H470.8V537.0H472.1V535.9H473.4V537.6H474.7V536.7H476.0V536.7H477.3V537.2H478.6V538.2H479.9V538.6H481.2V536.9H482.5V537.7H483.8V537.8H485.1V538.3H486.4V537.2H487.7V537.8H489.0V537.5H490.3V538.4H491.6V537.4H492.9V538.7H494.2V537.5H495.5V537.4H496.8V538.3H498.1V537.9H499.4V537.2H500.7V538.2H502.0V537.2H503.3V538.5H504.6V538.3H505.9V538.5H507.2V538.2H508.5V537.7H509.8" fill="none" stroke="#9cee4c" stroke-width="3"/>
<path d="M303.8,501.0H305.1V506.6H306.4V526.9H307.7V532.5H309.0V534.2H310.3V532.9H311.6V533.4H312.9V533.8H314.2V535.2H315.5V534.5H316.8V534.4H318.1V535.3H319.4V534.2H320.7V534.6H322.0V534.8H323.3V535.3H324.6V535.3H325.9V535.1H327.2V534.7H328.5V534.7H329.8V534.3H331.1V535.4H332.4V534.8H333.7V534.8H335.0V533.6H336.3V533.8H337.6V534.2H338.9V533.5H340.2V532.3H341.5V532.5H342.8V532.9H344.1V531.4H345.4V530.9H346.7V530.7H348.0V531.0H349.3V530.8H350.6V529.0H351.9V528.6H353.2V528.2H354.5V527.9H355.8V527.2H357.1V525.3H358.4V524.4H359.7V522.9H361.0V523.1H362.3V522.8H363.6V523.2H364.9V526.3H366.2V526.3H367.5V526.5H368.8V527.1H370.1V526.4H371.4V525.8H372.7V525.4H374.0V525.6H375.3V527.0H376.6V526.7H377.9V527.5H379.2V528.7H380.5V528.9H381.8V530.4H383.1V531.9H384.4V532.6H385.7V533.1H387.0V533.8H388.3V534.0H389.6V533.9H390.9V535.3H392.2V535.2H393.5V535.8H394.8V536.1H396.1V535.3H397.4V535.5H398.7V536.0H400.0V535.5H401.3V535.4H402.6V536.4H403.9V536.9H405.2V536.5H406.5V536.2H407.8V536.3H409.1V535.9H410.4V535.4H411.7V533.7H413.0V532.1H414.3V532.0H415.6V530.4H416.9V530.3H418.2V530.3H419.5V529.5H420.8V528.7H422.1V527.4H423.4V526.2H424.7V524.3H426.0V522.4H427.3V519.4H428.6V516.8H429.9V513.7H431.2V509.6H432.5V507.8H433.8V504.6H435.1V494.2H436.4V487.7H437.7V486.0H439.0V488.5H440.3V488.4H441.6V484.5H442.9V482.1H444.2V482.9H445.5V483.8H446.8V490.8H448.1V491.5H449.4V489.6H450.7V497.2H452.0V499.3H453.3V501.9H454.6V506.0H455.9V513.9H457.2V517.8H458.5V521.4H459.8V520.6H461.1V518.0H462.4V516.0H463.7V516.7H465.0V516.9H466.3V520.2H467.6V522.6H468.9V525.1H470.2V527.4H471.5V529.6H472.8V528.4H474.1V528.8H475.4V532.2H476.7V535.0H478.0V534.6H479.3V534.7H480.6V534.9H481.9V535.7H483.2V535.9H484.5V535.0H485.8V534.3H487.1V535.1H488.4V534.6H489.7V534.4H491.0V534.5H492.3V535.8H493.6V536.0H494.9V535.8H496.2V535.7H497.5V536.0H498.8V535.5H500.1V537.0H501.4V535.9H502.7V536.4H504.0V536.8H505.3V536.8H506.6V536.1H507.9V535.8H509.2" fill="none" stroke="#e8163a" stroke-width="3"/>
<line x1="508.7" y1="536.2" x2="508.7" y2="531.5" stroke="#e06a78" stroke-width="0.8"/>
<line x1="303.2" y1="411.2" x2="303.2" y2="540.1" stroke="#5c6670" stroke-width="1"/>
<line x1="303" y1="539.6" x2="509.8" y2="539.6" stroke="#6b6f72" stroke-width="1.3"/>
<line x1="299" y1="539.6" x2="303.2" y2="539.6" stroke="#333" stroke-width="1"/>
<line x1="299" y1="507.5" x2="303.2" y2="507.5" stroke="#333" stroke-width="1"/>
<line x1="299" y1="475.4" x2="303.2" y2="475.4" stroke="#333" stroke-width="1"/>
<line x1="299" y1="443.3" x2="303.2" y2="443.3" stroke="#333" stroke-width="1"/>
<line x1="299" y1="411.2" x2="303.2" y2="411.2" stroke="#333" stroke-width="1"/>
<line x1="303.3" y1="539.6" x2="303.3" y2="543.9" stroke="#333" stroke-width="1"/>
<text x="296.5" y="556.4" style="font-family:'Liberation Serif',serif;font-size:10.5px;fill:#222">10<tspan dy="-4.3" style="font-size:6.5px">0</tspan></text>
<line x1="355.4" y1="539.6" x2="355.4" y2="543.9" stroke="#333" stroke-width="1"/>
<text x="348.6" y="556.4" style="font-family:'Liberation Serif',serif;font-size:10.5px;fill:#222">10<tspan dy="-4.3" style="font-size:6.5px">1</tspan></text>
<line x1="406.5" y1="539.6" x2="406.5" y2="543.9" stroke="#333" stroke-width="1"/>
<text x="399.7" y="556.4" style="font-family:'Liberation Serif',serif;font-size:10.5px;fill:#222">10<tspan dy="-4.3" style="font-size:6.5px">2</tspan></text>
<line x1="458.5" y1="539.6" x2="458.5" y2="543.9" stroke="#333" stroke-width="1"/>
<text x="451.7" y="556.4" style="font-family:'Liberation Serif',serif;font-size:10.5px;fill:#222">10<tspan dy="-4.3" style="font-size:6.5px">3</tspan></text>
<line x1="509.3" y1="539.6" x2="509.3" y2="543.9" stroke="#333" stroke-width="1"/>
<text x="502.5" y="556.4" style="font-family:'Liberation Serif',serif;font-size:10.5px;fill:#222">10<tspan dy="-4.3" style="font-size:6.5px">4</tspan></text>
<text x="298.3" y="416.3" text-anchor="end" style="font-family:'Liberation Serif',serif;font-size:10.5px;fill:#222;stroke:#222;stroke-width:0.2">80</text>
<text x="298.3" y="448.3" text-anchor="end" style="font-family:'Liberation Serif',serif;font-size:10.5px;fill:#222;stroke:#222;stroke-width:0.2">60</text>
<text x="298.3" y="480.5" text-anchor="end" style="font-family:'Liberation Serif',serif;font-size:10.5px;fill:#222;stroke:#222;stroke-width:0.2">40</text>
<text x="298.3" y="512.5" text-anchor="end" style="font-family:'Liberation Serif',serif;font-size:10.5px;fill:#222;stroke:#222;stroke-width:0.2">20</text>
<text x="298.3" y="544.6" text-anchor="end" style="font-family:'Liberation Serif',serif;font-size:10.5px;fill:#222;stroke:#222;stroke-width:0.2">0</text>
<text transform="translate(277.6,488.3) rotate(-90)" style="font-family:'Liberation Serif',serif;font-size:15px;fill:#111">Counts</text>
<text x="385" y="580.2" style="font-family:'Liberation Serif',serif;font-size:14.5px;fill:#111">FL1-H</text>
</svg></body></html>
